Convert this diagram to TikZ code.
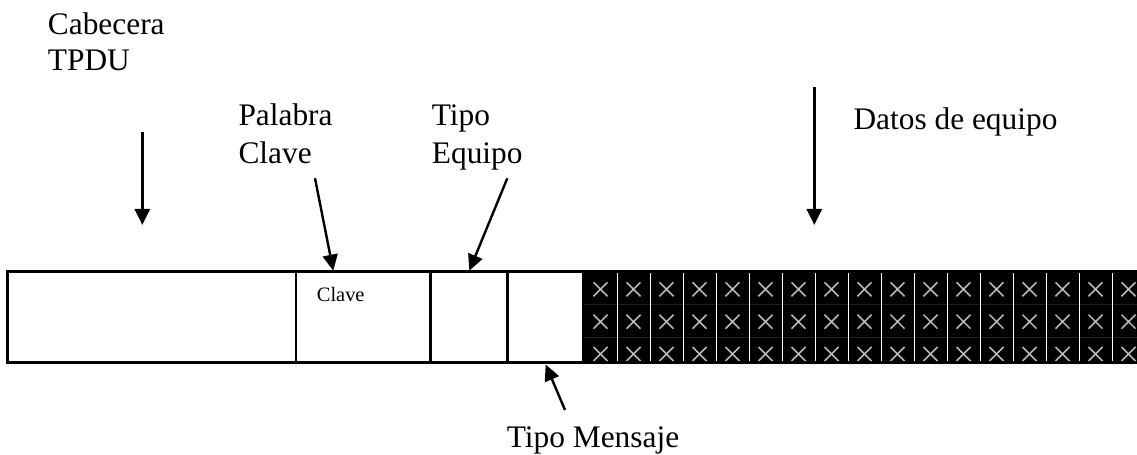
\documentclass[tikz,border=0pt]{standalone}
\usepackage{fontspec}
\setmainfont{Liberation Serif}
\usetikzlibrary{arrows.meta}
\begin{document}
\begin{tikzpicture}[x=1bp,y=-1bp,
  lbl/.style={anchor=base west,inner sep=0pt,font=\fontsize{31.5}{38}\selectfont},
  small/.style={anchor=base west,inner sep=0pt,font=\fontsize{20.5}{24}\selectfont},
  ptr/.style={line width=2.4bp,-{Triangle[length=16bp,width=15bp]}},
  border/.style={line width=3bp},
  divider/.style={line width=2.6bp},
  sep/.style={white,line width=1.1bp},
  rowsep/.style={draw={rgb,255:red,32;green,32;blue,32},line width=1bp},
  xmark/.style={draw=black!28,line width=1.5bp}]
\useasboundingbox (0,0) rectangle (1137,455);
% data region
\fill[black] (583,271.7) rectangle (1150,363);
\foreach \yy in {305,338} \draw[rowsep] (583,\yy) -- (1150,\yy);
\foreach \k in {0,...,16} {
  \draw[sep] (617.3+33*\k,273.5) -- (617.3+33*\k,361.5);
}
\foreach \k in {0,...,16} {
  \foreach \cy in {289.3,321.7,354} {
    \pgfmathsetmacro{\cx}{600.5+33*\k}
    \draw[xmark] (\cx-7,\cy-7) -- (\cx+7,\cy+7) (\cx-7,\cy+7) -- (\cx+7,\cy-7);
  }
}
% outline
\draw[border] (1150,271.7) -- (7,271.7) -- (7,363) -- (1150,363);
\draw[divider] (296,271.7) -- (296,363);
\draw[divider] (430.7,271.7) -- (430.7,363);
\draw[divider] (507.7,271.7) -- (507.7,363);
\draw[divider] (583,271.7) -- (583,363);
% texts
\node[lbl] (cab1) at (47.7,34.3) {Cabecera};
\node[lbl] (cab2) at (47.7,71) {TPDU};
\node[lbl] (pal1) at (238.3,125.7) {Palabra};
\node[lbl] (pal2) at (238.3,164) {Clave};
\node[lbl] (tip1) at (431.7,125.7) {Tipo};
\node[lbl] (tip2) at (431.7,163.3) {Equipo};
\node[lbl] (dat) at (853.3,129.3) {Datos de equipo};
\node[lbl] (men) at (506.7,447.3) {Tipo Mensaje};
\node[small] (clv) at (316.7,302) {Clave};
% arrow ends
\coordinate (cabS) at (142.3,132.3);
\coordinate (cabE) at (142.3,225);
\coordinate (datS) at (814.3,86.7);
\coordinate (datE) at (814.3,225);
\coordinate (palS) at (315,178.3);
\coordinate (palE) at (333.3,270.7);
\coordinate (tipS) at (507.3,178.3);
\coordinate (tipE) at (469.3,270.7);
\coordinate (menS) at (565,410);
\coordinate (menE) at (545.7,364.5);
\draw[ptr] (cabS) -- (cabE);
\draw[ptr] (datS) -- (datE);
\draw[ptr] (palS) -- (palE);
\draw[ptr] (tipS) -- (tipE);
\draw[ptr] (menS) -- (menE);
\end{tikzpicture}
\end{document}
